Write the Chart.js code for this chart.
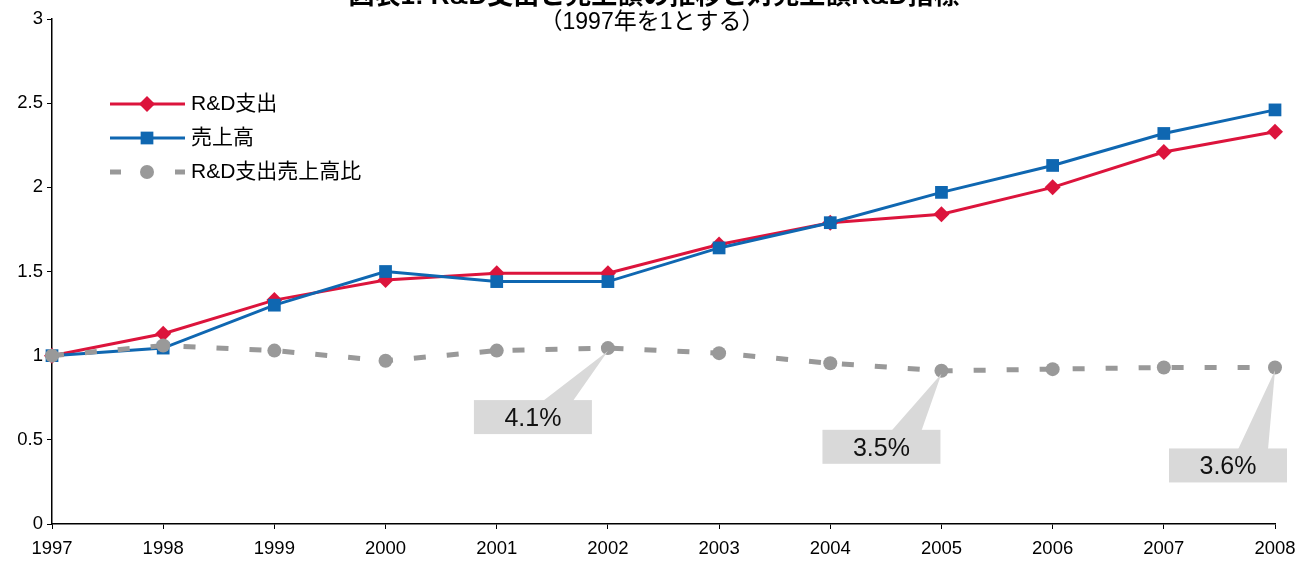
<!DOCTYPE html>
<html lang="ja">
<head>
<meta charset="utf-8">
<script src="https://cdn.jsdelivr.net/npm/chart.js@4"></script>
<style>
  body { margin: 0; background: #fff; }
  .wrap { width: 1299px; height: 561px; position: relative; }
</style>
</head>
<body>
<div class="wrap"><canvas id="myChart"></canvas></div>
<script>
// データ（1997年を1とする）
const years = ['1997', '1998', '1999', '2000', '2001', '2002', '2003', '2004', '2005', '2006', '2007', '2008'];
const rdSpend = [1.0, 1.13, 1.33, 1.45, 1.49, 1.49, 1.66, 1.79, 1.84, 2.0, 2.21, 2.33];
const sales = [1.0, 1.045, 1.3, 1.5, 1.44, 1.44, 1.64, 1.79, 1.97, 2.13, 2.32, 2.46];
const rdRatio = [1.0, 1.06, 1.03, 0.97, 1.03, 1.045, 1.015, 0.955, 0.91, 0.92, 0.93, 0.93];
const yTicks = [0, 0.5, 1, 1.5, 2, 2.5, 3];

// 吹き出し
const noteIndex = [5, 8, 11];
const noteText = ['4.1%', '3.5%', '3.6%'];

const FONT = "'Liberation Sans', Arial, 'Noto Sans CJK JP', sans-serif";
const RED = '#DC143C';
const BLUE = '#0F67B1';
const GRAY = '#999999';

const titlePlugin = {
  id: 'titleText',
  afterDraw(chart) {
    const ctx = chart.ctx;
    ctx.save();
    ctx.fillStyle = '#000';
    ctx.textAlign = 'center';
    ctx.font = "bold 26px " + FONT;
    ctx.textBaseline = 'alphabetic';
    ctx.fillText('図表1: R&D支出と売上額の推移と対売上額R&D指標', 654, 4);
    ctx.font = "23px " + FONT;
    ctx.textBaseline = 'middle';
    ctx.fillText('（1997年を1とする）', 652, 23);
    ctx.restore();
  }
};

const legendPlugin = {
  id: 'innerLegend',
  afterDraw(chart) {
    const ctx = chart.ctx;
    const items = chart.data.datasets;
    ctx.save();
    items.forEach((ds, i) => {
      const y = 104 + i * 34;
      ctx.strokeStyle = ds.borderColor;
      ctx.lineWidth = ds.borderWidth;
      ctx.setLineDash([]);
      ctx.beginPath();
      if (ds.borderDash) {
        ctx.moveTo(110, y); ctx.lineTo(121, y);
        ctx.moveTo(175, y); ctx.lineTo(185, y);
      } else {
        ctx.moveTo(110, y); ctx.lineTo(185, y);
      }
      ctx.stroke();
      ctx.fillStyle = ds.pointBackgroundColor;
      ctx.strokeStyle = ds.pointBackgroundColor;
      Chart.helpers.drawPoint(ctx, {
        pointStyle: ds.pointStyle,
        radius: ds.pointRadius,
        rotation: 0,
        borderWidth: 0
      }, 147, y);
      ctx.fillStyle = '#000';
      ctx.font = "21px " + FONT;
      ctx.textAlign = 'left';
      ctx.textBaseline = 'middle';
      ctx.fillText(ds.label, 191, y);
    });
    ctx.restore();
  }
};

// 吹き出しの位置（点からのずれ）
const noteBoxes = [
  { dx: -134, dy: 52 },
  { dx: -119, dy: 59 },
  { dx: -106, dy: 81 }
];

const notePlugin = {
  id: 'callouts',
  afterDraw(chart) {
    const ctx = chart.ctx;
    const xs = chart.scales.x;
    const ys = chart.scales.y;
    ctx.save();
    noteIndex.forEach((idx, i) => {
      const px = xs.getPixelForValue(idx);
      const py = ys.getPixelForValue(rdRatio[idx]);
      const bx = px + noteBoxes[i].dx;
      const by = py + noteBoxes[i].dy;
      ctx.fillStyle = '#D9D9D9';
      ctx.beginPath();
      ctx.moveTo(px, py + 3);
      ctx.lineTo(bx + 99, by + 1);
      ctx.lineTo(bx + 69, by + 1);
      ctx.closePath();
      ctx.fill();
      ctx.fillRect(bx, by, 118, 34);
      ctx.fillStyle = '#111';
      ctx.font = "25px " + FONT;
      ctx.textAlign = 'center';
      ctx.textBaseline = 'middle';
      ctx.fillText(noteText[i], bx + 59, by + 19);
    });
    ctx.restore();
  }
};

const ctx = document.getElementById('myChart');

new Chart(ctx, {
  type: 'line',
  data: {
    labels: years,
    datasets: [
      {
        label: 'R&D支出',
        data: rdSpend,
        borderColor: RED,
        backgroundColor: RED,
        pointBackgroundColor: RED,
        borderWidth: 3,
        pointStyle: 'rectRot',
        pointRadius: 8,
        pointBorderWidth: 0,
        order: 2
      },
      {
        label: '売上高',
        data: sales,
        borderColor: BLUE,
        backgroundColor: BLUE,
        pointBackgroundColor: BLUE,
        borderWidth: 3,
        pointStyle: 'rect',
        pointRadius: 9,
        pointBorderWidth: 0,
        order: 1
      },
      {
        label: 'R&D支出売上高比',
        data: rdRatio,
        borderColor: GRAY,
        backgroundColor: GRAY,
        pointBackgroundColor: GRAY,
        borderWidth: 5,
        borderDash: [12, 21],
        pointStyle: 'circle',
        pointRadius: 7,
        pointBorderWidth: 0,
        order: 0
      }
    ]
  },
  options: {
    responsive: true,
    maintainAspectRatio: false,
    animation: false,
    layout: { padding: { top: 19, right: 24, left: 0, bottom: 0 } },
    plugins: {
      legend: { display: false },
      title: { display: false },
      tooltip: { enabled: false }
    },
    scales: {
      x: {
        offset: false,
        grid: { drawOnChartArea: false, drawTicks: true, tickLength: 5, color: '#000' },
        border: { color: '#000', width: 1.5 },
        ticks: { color: '#000', font: { family: FONT, size: 18.5 }, padding: 9, maxRotation: 0, autoSkip: false },
        afterFit(scale) {
          scale.height = 37;
          scale.paddingLeft = 0;
          scale.paddingRight = 0;
        }
      },
      y: {
        min: 0,
        max: 3,
        grid: { drawOnChartArea: false, drawTicks: true, tickLength: 5, color: '#000' },
        border: { color: '#000', width: 1.5 },
        ticks: {
          color: '#000',
          font: { family: FONT, size: 18.5 },
          padding: 4,
          callback: (v) => String(v)
        },
        afterBuildTicks(scale) { scale.ticks = yTicks.map(v => ({ value: v })); },
        afterFit(scale) { scale.width = 52; }
      }
    }
  },
  plugins: [titlePlugin, legendPlugin, notePlugin]
});
</script>
</body>
</html>
